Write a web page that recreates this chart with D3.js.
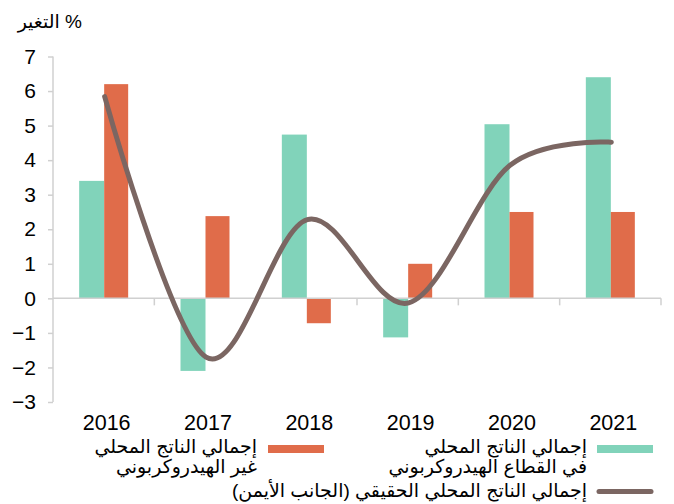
<!DOCTYPE html>
<html><head><meta charset="utf-8">
<script src="https://cdn.jsdelivr.net/npm/d3@7"></script>
<style>body{margin:0;background:#fff}svg{display:block}text{font-family:"Liberation Sans",Arial,"DejaVu Sans",sans-serif;fill:#000}</style>
</head><body><svg id="c" width="674" height="504"></svg>
<script>
const years = ["2016","2017","2018","2019","2020","2021"];
const hydroGdp = [3.4, -2.1, 4.74, -1.13, 5.04, 6.4];
const nonHydroGdp = [6.2, 2.38, -0.72, 1.0, 2.5, 2.5];
const realGdp = [5.84, -1.7, 2.28, -0.13, 3.85, 4.52];
const yTicks = [-3,-2,-1,0,1,2,3,4,5,6,7];
const yTitle = "% التغير";
const legendHydro = ["إجمالي الناتج المحلي","في القطاع الهيدروكربوني"];
const legendNonHydro = ["إجمالي الناتج المحلي","غير الهيدروكربوني"];
const legendReal = "إجمالي الناتج المحلي الحقيقي (الجانب الأيمن)";

const C_TEAL = "#81d3ba", C_ORANGE = "#e06c4a", C_LINE = "#7b6662", C_AXIS = "#d0d0d0";
const svg = d3.select("#c");
const x = d3.scaleBand().domain(years).range([53, 661]);
const y = d3.scaleLinear().domain([-3, 7]).range([402, 56.5]);
const barW = 25;
const gOff = (x.bandwidth() - 2 * barW) / 2 + 0.5;

// axes
const yAxis = svg.append("g").attr("transform","translate(53,0)")
  .call(d3.axisLeft(y).tickValues(yTicks).tickSize(5).tickPadding(12).tickFormat(d3.format("d")));
yAxis.select(".domain").attr("stroke", C_AXIS).attr("stroke-width",1.5).attr("d","M0,56.5V402");
yAxis.selectAll(".tick line").attr("stroke", C_AXIS).attr("stroke-width",1.5);
yAxis.selectAll(".tick text").attr("font-size",21).attr("font-family","Liberation Sans, Arial, sans-serif");

// bars
const gb = svg.append("g");
gb.selectAll("rect.h").data(years).join("rect").attr("class","h")
  .attr("x", d => x(d) + gOff).attr("width", barW)
  .attr("y", (d,i) => y(Math.max(0, hydroGdp[i])))
  .attr("height", (d,i) => Math.abs(y(hydroGdp[i]) - y(0)))
  .attr("fill", C_TEAL);
gb.selectAll("rect.n").data(years).join("rect").attr("class","n")
  .attr("x", d => x(d) + gOff + barW).attr("width", barW - 1)
  .attr("y", (d,i) => y(Math.max(0, nonHydroGdp[i])))
  .attr("height", (d,i) => Math.abs(y(nonHydroGdp[i]) - y(0)))
  .attr("fill", C_ORANGE);

// x axis at zero
const xAxis = svg.append("g").attr("transform",`translate(0,${y(0)})`)
  .call(d3.axisBottom(x).tickSize(0).tickFormat(""));
xAxis.select(".domain").attr("stroke", C_AXIS).attr("stroke-width",1.5).attr("d",`M53,0H661`);
const bounds = years.map(d => x(d)).concat([x(years[years.length-1]) + x.bandwidth()]);
xAxis.selectAll("line.b").data(bounds.slice(1)).join("line").attr("class","b")
  .attr("x1", d => d).attr("x2", d => d).attr("y1",0).attr("y2",7)
  .attr("stroke", C_AXIS).attr("stroke-width",1.5);
svg.append("g").selectAll("text").data(years).join("text")
  .attr("x", d => x(d) + x.bandwidth()/2 + 3).attr("y", 430)
  .attr("text-anchor","middle").attr("font-size",21.5).text(d => d);

// line
const line = d3.line().x((d,i) => x(years[i]) + x.bandwidth()/2 + 1).y(d => y(d)).curve(d3.curveCardinal.tension(0));
svg.append("path").datum(realGdp).attr("d", line).attr("fill","none")
  .attr("stroke", C_LINE).attr("stroke-width",5).attr("stroke-linecap","round");

// title
svg.append("text").attr("x", 82).attr("y", 28).attr("direction","rtl").attr("text-anchor","start")
  .attr("font-size",19).text(yTitle);

// legend
const lf = 19;
svg.append("rect").attr("x",597).attr("y",445).attr("width",56).attr("height",8).attr("fill",C_TEAL);
svg.append("rect").attr("x",268).attr("y",445).attr("width",56).attr("height",8).attr("fill",C_ORANGE);
svg.append("line").attr("x1",599).attr("x2",651).attr("y1",491.5).attr("y2",491.5)
  .attr("stroke",C_LINE).attr("stroke-width",5).attr("stroke-linecap","round");
legendHydro.forEach((t,i) => svg.append("text").attr("x",587).attr("y",453 + i*20)
  .attr("direction","rtl").attr("text-anchor","start").attr("font-size",lf).text(t));
legendNonHydro.forEach((t,i) => svg.append("text").attr("x",257).attr("y",453 + i*20)
  .attr("direction","rtl").attr("text-anchor","start").attr("font-size",lf).text(t));
svg.append("text").attr("x",587).attr("y",497).attr("direction","rtl").attr("text-anchor","start")
  .attr("font-size",lf).text(legendReal);
</script></body></html>
